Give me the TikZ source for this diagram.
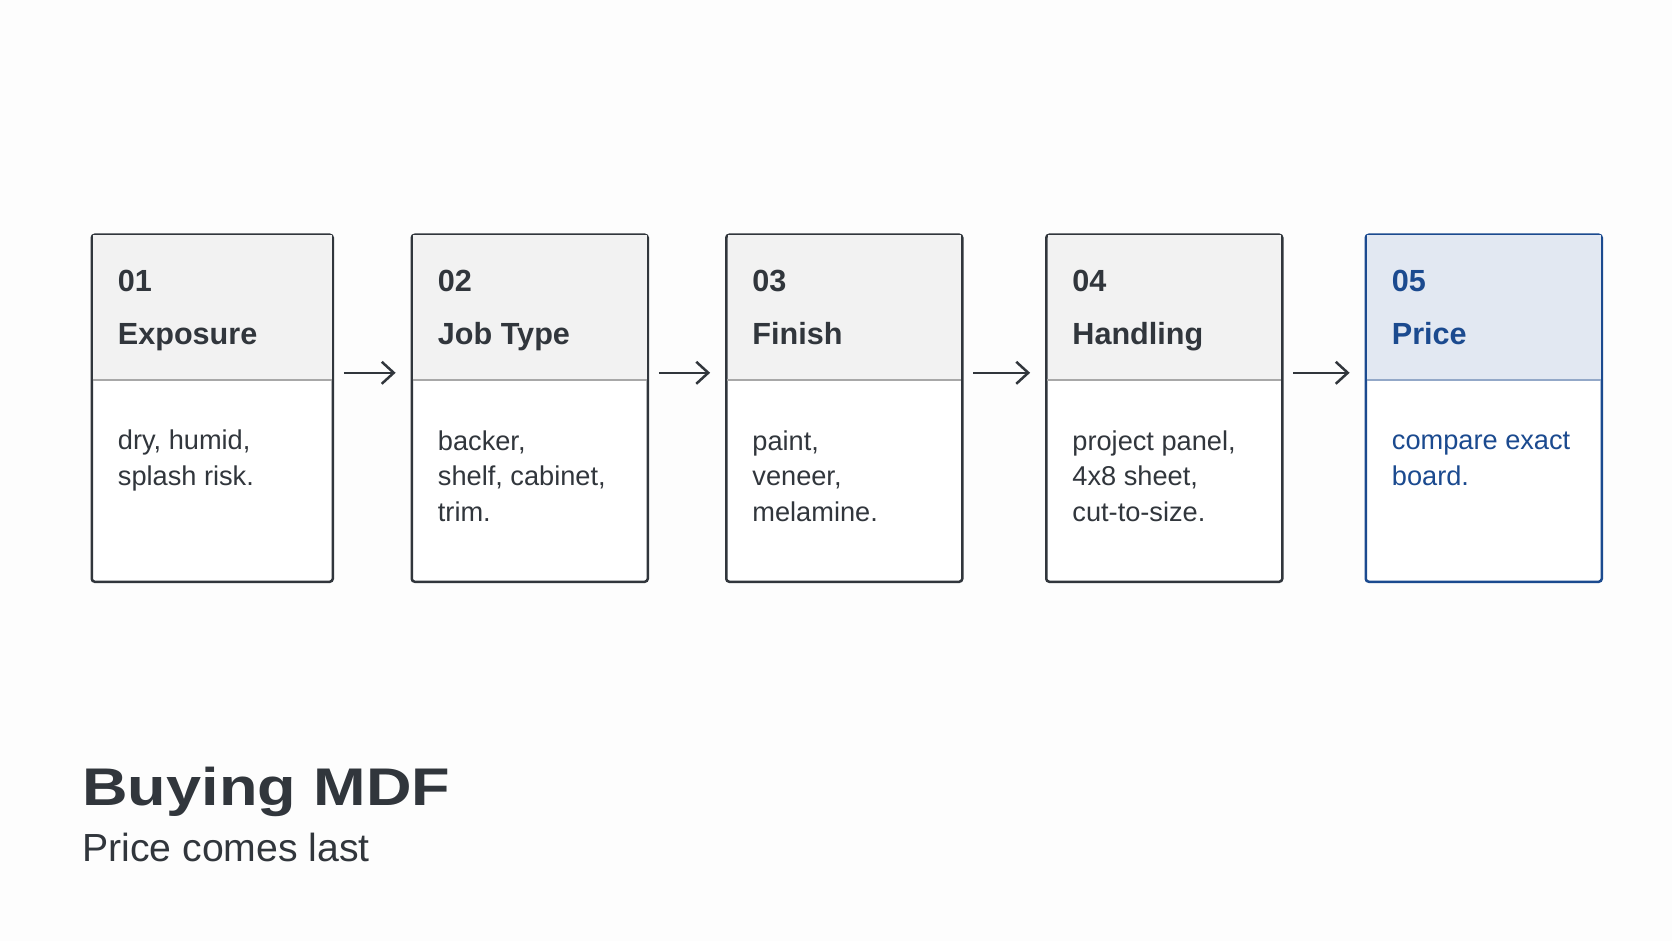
\documentclass[tikz,border=0pt]{standalone}
\usepackage{fontspec}
\setmainfont{Liberation Sans}
\newfontfamily\titlefont{Liberation Sans}[FakeStretch=1.19]
\usepackage{xcolor}
\usetikzlibrary{positioning, arrows.meta}

\definecolor{inkdark}{HTML}{31363C}
\definecolor{headgray}{HTML}{F2F2F2}
\definecolor{rulegray}{HTML}{A8A8A8}
\definecolor{navy}{HTML}{1B4A8F}
\definecolor{headblue}{HTML}{E2E8F2}
\definecolor{ruleblue}{HTML}{93A8C8}
\definecolor{pagebg}{HTML}{FDFDFD}

\tikzset{
	card/.style={draw=inkdark, line width=1.25pt, fill=white,
		rounded corners=1.5pt, anchor=north west, inner sep=0pt,
		minimum height=347*0.5pt},
	cardhead/.style={fill=headgray, anchor=north, inner sep=0pt,
		minimum height=144.5*0.5pt},
	divider/.style={draw=rulegray, line width=0.7pt},
	cardnum/.style={anchor=base west, inner sep=0pt, text=inkdark,
		font=\fontsize{15.3}{18}\selectfont\bfseries},
	% multi-line text sits on the baseline of its last line
	cardtext/.style={anchor=base west, inner sep=0pt, align=left,
		text=inkdark, font=\fontsize{13.6}{17.75}\selectfont},
	flow/.style={->, draw=inkdark, line width=1.25pt,
		shorten <=6pt, shorten >=8.5pt},
	last/.style={draw=navy, text=navy}
}

\begin{document}
\begin{tikzpicture}[x=0.5pt, y=-0.5pt,
		>={Straight Barb[length=6pt, width=11pt]}]
	\path[fill=pagebg, use as bounding box] (0,0) rectangle (1672,941);

	% cards
	\node[card, minimum width=241*0.5pt] (b1) at (90.5,233.5) {};
	\node[card, minimum width=236*0.5pt] (b2) at (410.5,233.5) {};
	\node[card, minimum width=236*0.5pt] (b3) at (725,233.5) {};
	\node[card, minimum width=236*0.5pt] (b4) at (1045,233.5) {};
	\node[card, last, minimum width=236*0.5pt] (b5) at (1364.5,233.5) {};

	% header bands
	\node[cardhead, minimum width=238.5*0.5pt] (h1) at ([yshift=-0.6pt]b1.north) {};
	\node[cardhead, minimum width=233.5*0.5pt] (h2) at ([yshift=-0.6pt]b2.north) {};
	\node[cardhead, minimum width=233.5*0.5pt] (h3) at ([yshift=-0.6pt]b3.north) {};
	\node[cardhead, minimum width=233.5*0.5pt] (h4) at ([yshift=-0.6pt]b4.north) {};
	\node[cardhead, fill=headblue, minimum width=233.5*0.5pt] (h5)
		at ([yshift=-0.6pt]b5.north) {};

	\draw[divider] (h1.south west) -- (h1.south east);
	\draw[divider] (h2.south west) -- (h2.south east);
	\draw[divider] (h3.south west) -- (h3.south east);
	\draw[divider] (h4.south west) -- (h4.south east);
	\draw[divider, draw=ruleblue] (h5.south west) -- (h5.south east);

	% card texts
	\node[cardnum] (n1) at ([shift={(27,58)}]b1.north west) {01};
	\node[cardnum] (t1) at ([shift={(27,111.5)}]b1.north west) {Exposure};
	\node[cardtext] (d1) at ([shift={(27,252)}]b1.north west)
		{dry, humid,\\splash risk.};

	\node[cardnum] (n2) at ([shift={(27,58)}]b2.north west) {02};
	\node[cardnum] (t2) at ([shift={(27,111.5)}]b2.north west) {Job Type};
	\node[cardtext] (d2) at ([shift={(27,287.5)}]b2.north west)
		{backer,\\shelf, cabinet,\\trim.};

	\node[cardnum] (n3) at ([shift={(27,58)}]b3.north west) {03};
	\node[cardnum] (t3) at ([shift={(27,111.5)}]b3.north west) {Finish};
	\node[cardtext] (d3) at ([shift={(27,287.5)}]b3.north west)
		{paint,\\veneer,\\melamine.};

	\node[cardnum] (n4) at ([shift={(27,58)}]b4.north west) {04};
	\node[cardnum] (t4) at ([shift={(27,111.5)}]b4.north west) {Handling};
	\node[cardtext] (d4) at ([shift={(27,287.5)}]b4.north west)
		{project panel,\\4x8 sheet,\\cut-to-size.};

	\node[cardnum, text=navy] (n5) at ([shift={(27,58)}]b5.north west) {05};
	\node[cardnum, text=navy] (t5) at ([shift={(27,111.5)}]b5.north west) {Price};
	\node[cardtext, text=navy] (d5) at ([shift={(27,252)}]b5.north west)
		{compare exact\\board.};

	% arrows between cards
	\draw[flow] ([yshift=3.6pt]h1.south east) -- ([yshift=3.6pt]h2.south west);
	\draw[flow] ([yshift=3.6pt]h2.south east) -- ([yshift=3.6pt]h3.south west);
	\draw[flow] ([yshift=3.6pt]h3.south east) -- ([yshift=3.6pt]h4.south west);
	\draw[flow] ([yshift=3.6pt]h4.south east) -- ([yshift=3.6pt]h5.south west);

	% title
	\node[anchor=base west, inner sep=0pt, text=inkdark,
		font=\titlefont\fontsize{26.5}{30}\selectfont\bfseries]
		(title) at (82,805) {Buying MDF};
	\node[anchor=base west, inner sep=0pt, text=inkdark,
		font=\fontsize{19.6}{22}\selectfont]
		(subtitle) at (82,861.5) {Price comes last};
\end{tikzpicture}
\end{document}
